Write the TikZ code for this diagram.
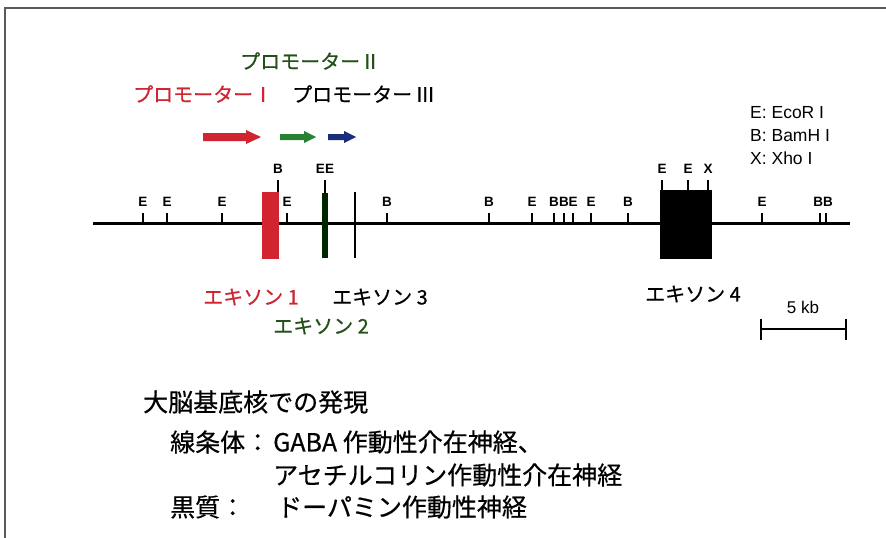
\documentclass[tikz,border=0pt]{standalone}
\usepackage{fontspec}
\setmainfont{Noto Sans CJK JP}[FakeBold=0.5]
\newfontfamily\latinsans{Liberation Sans}
\definecolor{exred}{RGB}{208,36,48}
\definecolor{exgreen}{RGB}{40,130,50}
\definecolor{exblue}{RGB}{25,45,125}
\definecolor{txtgreen}{RGB}{35,80,25}
\definecolor{frame}{RGB}{90,90,90}
\tikzset{
  cuttick/.style={line width=1.1pt},
  sitelab/.style={font=\latinsans\bfseries\fontsize{13.5}{13.5}\selectfont, inner sep=0pt},
  legend/.style={font=\latinsans\fontsize{17.5}{17.5}\selectfont, inner sep=0pt, anchor=west},
  promlab/.style={font=\fontsize{20}{20}\selectfont, inner sep=0pt},
  exlab/.style={font=\fontsize{20}{20}\selectfont, inner sep=0pt, anchor=west},
  body/.style={font=\fontsize{25}{25}\selectfont, inner sep=0pt, anchor=west},
}
\begin{document}
\begin{tikzpicture}[x=1pt,y=-1pt]
\useasboundingbox (0,0) rectangle (886,538);
\fill[white] (0,0) rectangle (886,538);
% scan frame
\draw[frame, line width=1.3pt] (5,538) -- (5,8) -- (886,8);

% promoter labels
\node[promlab, text=txtgreen, anchor=west] (p2) at (240,61) {プロモーターⅡ};
\node[promlab, text=exred, anchor=west] (p1) at (133,94) {プロモーターⅠ};
\node[promlab, anchor=west] (p3) at (292,94) {プロモーター\kern3pt Ⅲ};

% promoter arrows
\fill[exred] (203,133) -- (246,133) -- (246,130) -- (261,137) -- (246,144) -- (246,141) -- (203,141) -- cycle;
\fill[exgreen] (280,134) -- (304,134) -- (304,131) -- (316,137) -- (304,143) -- (304,140) -- (280,140) -- cycle;
\fill[exblue] (328,134) -- (344,134) -- (344,131) -- (356,137) -- (344,143) -- (344,140) -- (328,140) -- cycle;

% legend
\node[legend] (lgE) at (750,113) {E: EcoR I};
\node[legend] (lgB) at (750,136) {B: BamH I};
\node[legend] (lgX) at (750,158) {X: Xho I};

% main line
\coordinate (gl) at (93,223);
\coordinate (gr) at (850,223);
\draw[line width=3pt] (gl) -- (gr);

% lower ticks
\foreach \x/\l [count=\i] in {143/E,167/E,222/E,287/E,387/B,489/B,532/E,554/B,564/B,573/E,591/E,628/B,762/E,820/,826/}{
  \draw[cuttick] (\x,213) -- (\x,223);
  \node[sitelab] (s\i) at (\x,202) {\l};
}
\node[sitelab] (sBB) at (823,202) {BB};

% upper ticks
\foreach \x/\y/\l [count=\i] in {278/192/B,325/193/EE,662/190/E,688/190/E,708/190/X}{
  \draw[cuttick] (\x,180) -- (\x,\y);
  \node[sitelab] (u\i) at (\x,169) {\l};
}

% exons
\fill[exred] (262,192) rectangle (279,259);
\fill[black!85!green] (322,193) rectangle (328,258);
\draw[line width=1.2pt] (355,192) -- (355,258);
\fill[black] (660,190) rectangle (712,259);

% exon labels
\node[exlab, text=exred] (e1) at (203,297) {エキソン 1};
\node[exlab] (e3) at (332,297) {エキソン 3};
\node[exlab, text=txtgreen] (e2) at (273,326) {エキソン 2};
\node[exlab] (e4) at (645,294) {エキソン 4};

% scale bar
\node[font=\latinsans\fontsize{17}{17}\selectfont, inner sep=0pt] (kb) at (803,307) {5 kb};
\coordinate (sbl) at (761,329);
\coordinate (sbr) at (846,329);
\draw[line width=1.1pt] (sbl) -- (sbr);
\draw[line width=1.1pt] (761,319) -- (761,340);
\draw[line width=1.1pt] (846,319) -- (846,340);

% body text
\node[body] (b0) at (143,402) {大脳基底核での発現};
\node[body] (b1) at (170,442) {線条体：};
\node[body] (b2) at (273,442) {GABA 作動性介在神経、};
\node[body] (b3) at (273,475) {アセチルコリン作動性介在神経};
\node[body] (b4) at (170,507) {黒質：};
\node[body] (b5) at (277,507) {ドーパミン作動性神経};
\end{tikzpicture}
\end{document}
